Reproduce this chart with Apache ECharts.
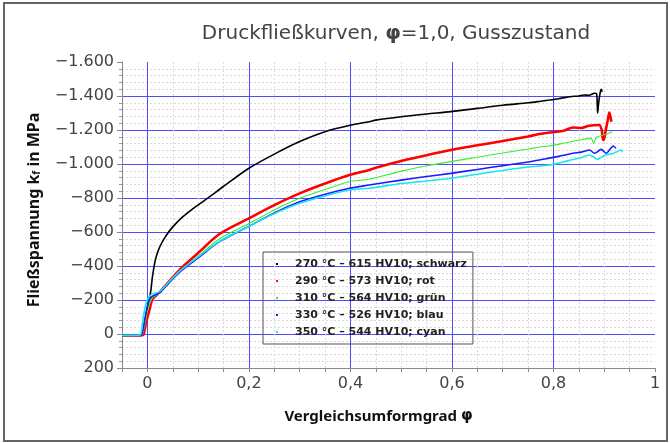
<!DOCTYPE html>
<html>
<head>
<meta charset="utf-8">
<script src="https://cdn.jsdelivr.net/npm/echarts@6/dist/echarts.min.js"></script>
<style>
  html, body { margin: 0; padding: 0; background: #fff; }
  #chart { width: 670px; height: 443px; }
</style>
</head>
<body>
<div id="chart"></div>
<script>
// Druckfließkurven – Werte (phi, kf in MPa)
var seriesNames = [
  '270 °C – 615 HV10; schwarz',
  '290 °C – 573 HV10; rot',
  '310 °C – 564 HV10; grün',
  '330 °C – 526 HV10; blau',
  '350 °C – 544 HV10; cyan'
];
var seriesColors = ['#000000', '#ff0000', '#33ee33', '#1a1aff', '#19e6f0'];
var seriesWidths = [1.6, 2.6, 1.1, 1.6, 1.6];

var phiSchwarz = [-0.05, -0.02, -0.012, -0.006, -0.002, 0.002, 0.005, 0.007, 0.010, 0.016, 0.024, 0.035, 0.05, 0.07, 0.09, 0.11, 0.135, 0.168, 0.2, 0.25, 0.3, 0.35, 0.4, 0.437, 0.45, 0.5, 0.55, 0.598, 0.65, 0.7, 0.75, 0.772, 0.792, 0.81, 0.832, 0.85, 0.86, 0.87, 0.881, 0.885, 0.887, 0.889, 0.892, 0.894, 0.896];
var kfSchwarz  = [8, 8, 6, -40, -120, -190, -225, -259, -337, -440, -510, -570, -630, -690, -738, -780, -835, -908, -975, -1058, -1132, -1190, -1228, -1249, -1258, -1278, -1294, -1308, -1327, -1346, -1360, -1368, -1376, -1384, -1396, -1400, -1406, -1404, -1416, -1412, -1300, -1360, -1420, -1440, -1425];

var phiRot = [-0.05, -0.015, -0.008, -0.003, 0.004, 0.010, 0.024, 0.063, 0.102, 0.142, 0.201, 0.25, 0.3, 0.35, 0.398, 0.437, 0.457, 0.5, 0.55, 0.598, 0.65, 0.7, 0.75, 0.772, 0.8, 0.82, 0.838, 0.855, 0.87, 0.89, 0.895, 0.897, 0.899, 0.903, 0.907, 0.910, 0.912, 0.914];
var kfRot  = [8, 8, 4, -63, -141, -205, -245, -376, -482, -588, -682, -758, -827, -885, -935, -965, -984, -1018, -1052, -1082, -1110, -1135, -1162, -1176, -1188, -1195, -1215, -1212, -1225, -1229, -1200, -1150, -1141, -1200, -1259, -1302, -1280, -1249];

var phiGruen = [-0.05, -0.017, -0.01, -0.004, 0.003, 0.010, 0.024, 0.063, 0.102, 0.142, 0.201, 0.25, 0.3, 0.35, 0.398, 0.437, 0.457, 0.5, 0.55, 0.598, 0.65, 0.7, 0.75, 0.772, 0.792, 0.82, 0.851, 0.874, 0.877, 0.879, 0.883, 0.887, 0.9, 0.916];
var kfGruen  = [8, 8, 3, -75, -165, -212, -240, -365, -462, -560, -651, -730, -798, -850, -896, -910, -925, -958, -990, -1014, -1040, -1065, -1088, -1100, -1106, -1122, -1141, -1151, -1135, -1121, -1150, -1161, -1172, -1190];

var phiBlau = [-0.05, -0.018, -0.011, -0.005, 0.002, 0.008, 0.024, 0.063, 0.102, 0.142, 0.201, 0.25, 0.3, 0.35, 0.398, 0.437, 0.5, 0.55, 0.598, 0.65, 0.7, 0.75, 0.772, 0.81, 0.838, 0.855, 0.871, 0.881, 0.894, 0.904, 0.912, 0.918, 0.923];
var kfBlau  = [8, 8, 2, -90, -185, -218, -243, -362, -452, -543, -635, -712, -778, -822, -857, -876, -905, -926, -945, -968, -990, -1012, -1024, -1045, -1063, -1070, -1082, -1063, -1086, -1063, -1090, -1106, -1092];

var phiCyan = [-0.05, -0.019, -0.013, -0.009, -0.003, 0.004, 0.010, 0.024, 0.063, 0.102, 0.142, 0.201, 0.25, 0.3, 0.35, 0.398, 0.437, 0.5, 0.55, 0.598, 0.65, 0.7, 0.75, 0.792, 0.83, 0.855, 0.871, 0.887, 0.895, 0.904, 0.915, 0.925, 0.933, 0.936];
var kfCyan  = [8, 8, 2, -82, -175, -222, -236, -250, -368, -458, -545, -635, -708, -769, -812, -847, -857, -885, -900, -916, -940, -962, -982, -994, -1020, -1038, -1053, -1027, -1042, -1053, -1060, -1072, -1082, -1070];

var phiLists = [phiSchwarz, phiRot, phiGruen, phiBlau, phiCyan];
var kfLists = [kfSchwarz, kfRot, kfGruen, kfBlau, kfCyan];

var fontName = 'DejaVu Sans';
var nameFont = 'Noto Sans';
var blueGrid = '#4d4dff';
var minorGrid = '#dadada';

function fmtY(v) {
  var a = Math.abs(v);
  var s = a >= 1000 ? Math.floor(a / 1000) + '.' + String(a % 1000).padStart(3, '0') : String(a);
  return (v < 0 ? '\u2212' : '') + s;
}
function fmtX(v) {
  var k = v / 0.2;
  if (Math.abs(k - Math.round(k)) > 1e-6) return '';
  var r = Math.round(k) * 0.2;
  return String(Math.round(r * 10) / 10).replace('.', ',');
}

var series = seriesNames.map(function (name, i) {
  var pts = phiLists[i].map(function (p, j) { return [p, kfLists[i][j]]; });
  return {
    name: name,
    type: 'line',
    data: pts,
    showSymbol: false,
    symbol: 'none',
    smooth: 0.3,
    xAxisIndex: 0,
    yAxisIndex: 0,
    lineStyle: { color: seriesColors[i], width: seriesWidths[i] },
    itemStyle: { color: seriesColors[i] },
    animation: false,
    z: 3 + i
  };
});

var chart = echarts.init(document.getElementById('chart'));
chart.setOption({
  backgroundColor: '#ffffff',
  animation: false,
  textStyle: { fontFamily: fontName },
  title: {
    text: 'Druckfließkurven, {p|φ}=1,0, Gusszustand',
    left: 391,
    top: 19,
    textAlign: 'center',
    textStyle: {
      fontFamily: fontName, fontSize: 20, fontWeight: 'normal', color: '#444',
      rich: { p: { fontFamily: fontName, fontSize: 20, fontWeight: 'bold', color: '#444' } }
    }
  },
  graphic: [{
    type: 'rect',
    shape: { x: 4, y: 3, width: 663, height: 438 },
    style: { fill: 'none', stroke: '#666', lineWidth: 2 },
    silent: true
  }],
  legend: {
    orient: 'vertical',
    left: 263,
    top: 252,
    width: 211,
    padding: [5, 6, 5, 13],
    itemGap: 3,
    itemWidth: 2,
    itemHeight: 2,
    icon: 'rect',
    borderColor: '#555',
    borderWidth: 1,
    backgroundColor: 'transparent',
    data: seriesNames,
    textStyle: { fontFamily: fontName, fontSize: 11, fontWeight: 'bold', color: '#222', padding: [0, 0, 0, 12], lineHeight: 14 }
  },
  grid: { left: 122, right: 15, top: 62, bottom: 75, containLabel: false },
  xAxis: [{
    type: 'value',
    min: -0.05,
    max: 1,
    interval: 0.05,
    name: 'Vergleichsumformgrad {p|φ}',
    nameLocation: 'middle',
    nameGap: 41,
    nameTextStyle: {
      fontFamily: nameFont, fontSize: 15, fontWeight: 'bold', color: '#111',
      padding: [0, 20, 0, 0],
      rich: { p: { fontFamily: fontName, fontSize: 15, fontWeight: 'bold', color: '#111' } }
    },
    axisLine: { show: true, onZero: false, lineStyle: { color: '#888', width: 1 } },
    axisTick: { show: true, length: 4, lineStyle: { color: '#888' } },
    axisLabel: { formatter: fmtX, fontSize: 16, color: '#444', margin: 8, showMinLabel: true, showMaxLabel: true },
    splitLine: {
      show: true,
      showMaxLine: false,
      lineStyle: { color: ['transparent', blueGrid, 'transparent', 'transparent'], width: 1 }
    }
  }, {
    type: 'value',
    min: -0.05,
    max: 1,
    interval: 0.05,
    gridIndex: 0,
    position: 'bottom',
    axisLine: { show: false },
    axisTick: { show: false },
    axisLabel: { show: false },
    splitLine: {
      show: true,
      showMaxLine: false,
      lineStyle: { color: [minorGrid, 'transparent', minorGrid, minorGrid], width: 1, type: [2, 2] }
    },
    z: 0
  }],
  yAxis: {
    type: 'value',
    inverse: true,
    min: -1600,
    max: 200,
    interval: 200,
    name: 'Fließspannung k{s|f} in MPa',
    nameLocation: 'middle',
    nameGap: 80,
    nameRotate: 90,
    nameTextStyle: {
      fontFamily: nameFont, fontSize: 16, fontWeight: 'bold', color: '#111',
      padding: [0, 0, 0, 10],
      rich: { s: { fontFamily: nameFont, fontSize: 10, fontWeight: 'bold', color: '#111', padding: [6, 0, 0, 0] } }
    },
    axisLine: { show: true, onZero: false, lineStyle: { color: '#888', width: 1 } },
    axisTick: { show: true, length: 5, lineStyle: { color: '#888' } },
    minorTick: { show: true, splitNumber: 5, length: 3, lineStyle: { color: '#999' } },
    axisLabel: { formatter: fmtY, fontSize: 16, color: '#444', margin: 8 },
    splitLine: { show: true, showMinLine: false, lineStyle: { color: blueGrid, width: 1 } },
    minorSplitLine: { show: true, lineStyle: { color: minorGrid, width: 1, type: [2, 2] } }
  },
  series: series
});
</script>
</body>
</html>
